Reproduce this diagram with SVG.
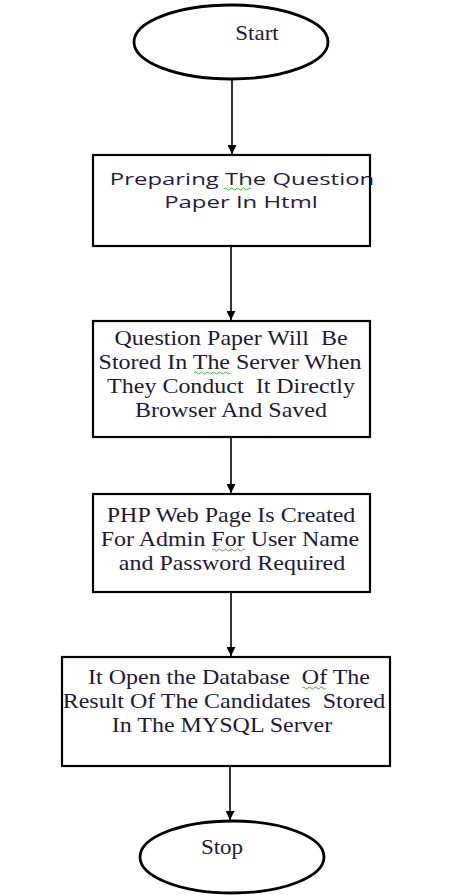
<svg xmlns="http://www.w3.org/2000/svg" width="450" height="895" viewBox="0 0 450 895">
  <style>
    .shape { fill: #ffffff; stroke: #000000; stroke-width: 2.2; }
    .oval { fill: #ffffff; stroke: #000000; stroke-width: 2.8; }
    .link { stroke: #000000; stroke-width: 1.6; fill: none; marker-end: url(#arrow); }
    .serif { font-family: "Liberation Serif", "Times New Roman", serif; font-size: 20px; fill: #1e1a36; text-anchor: middle; white-space: pre; }
    .sans { font-family: "Open Sans", "Noto Sans", sans-serif; font-size: 16.5px; fill: #241c3a; text-anchor: middle; }
    .squiggle { stroke: #3aa03a; stroke-width: 0.9; fill: none; }
  </style>
  <defs>
    <marker id="arrow" viewBox="0 0 10 10" refX="10" refY="5" markerWidth="9" markerHeight="9" markerUnits="userSpaceOnUse" orient="auto">
      <path d="M0,0 L10,5 L0,10 Z" fill="#000000"/>
    </marker>
  </defs>
  <rect width="450" height="895" fill="#ffffff"/>

  <g id="connectors">
    <line class="link" x1="232" y1="79" x2="232" y2="154"/>
    <line class="link" x1="231" y1="246" x2="231" y2="320"/>
    <line class="link" x1="231" y1="437" x2="231" y2="493"/>
    <line class="link" x1="231" y1="592" x2="231" y2="656"/>
    <line class="link" x1="230" y1="766" x2="230" y2="820"/>
  </g>

  <g id="start">
    <ellipse class="oval" cx="231" cy="42" rx="97" ry="37"/>
    <text class="serif" transform="translate(257,40) scale(1.15,1)">Start</text>
  </g>

  <g id="prepare">
    <rect class="shape" x="93" y="155" width="277" height="91"/>
    <text class="sans" transform="translate(242,185) scale(1.45,1)">Preparing The Question</text>
    <text class="sans" transform="translate(241,208) scale(1.45,1)">Paper In Html</text>
    <path class="squiggle" d="M224,189 q1.5,-2 3,0 t3,0 t3,0 t3,0 t3,0 t3,0 t3,0 t3,0 t3,0"/>
  </g>

  <g id="store">
    <rect class="shape" x="93" y="321" width="277" height="116"/>
    <text class="serif" xml:space="preserve" transform="translate(231,345) scale(1.2,1)">Question Paper Will  Be</text>
    <text class="serif" transform="translate(230,369) scale(1.2,1)">Stored In The Server When</text>
    <text class="serif" xml:space="preserve" transform="translate(231,393) scale(1.2,1)">They Conduct  It Directly</text>
    <text class="serif" transform="translate(231,417) scale(1.2,1)">Browser And Saved</text>
    <path class="squiggle" d="M194,373 q1.5,-2 3,0 t3,0 t3,0 t3,0 t3,0 t3,0 t3,0 t3,0 t3,0 t3,0 t3,0 t3,0"/>
  </g>

  <g id="admin">
    <rect class="shape" x="93" y="494" width="277" height="98"/>
    <text class="serif" transform="translate(231,522) scale(1.2,1)">PHP Web Page Is Created</text>
    <text class="serif" transform="translate(230,546) scale(1.2,1)">For Admin For User Name</text>
    <text class="serif" transform="translate(232,570) scale(1.2,1)">and Password Required</text>
    <path class="squiggle" d="M212,550 q1.5,-2 3,0 t3,0 t3,0 t3,0 t3,0 t3,0 t3,0 t3,0 t3,0 t3,0 t3,0"/>
  </g>

  <g id="database">
    <rect class="shape" x="62" y="657" width="328" height="109"/>
    <text class="serif" xml:space="preserve" transform="translate(229,684) scale(1.2,1)">It Open the Database  Of The</text>
    <text class="serif" xml:space="preserve" transform="translate(224,708) scale(1.2,1)">Result Of The Candidates  Stored</text>
    <text class="serif" transform="translate(222,732) scale(1.2,1)">In The MYSQL Server</text>
    <path class="squiggle" d="M302,688 q1.5,-2 3,0 t3,0 t3,0 t3,0 t3,0 t3,0 t3,0 t3,0"/>
  </g>

  <g id="stop">
    <ellipse class="oval" cx="232" cy="857" rx="92" ry="36"/>
    <text class="serif" transform="translate(222,854) scale(1.15,1)">Stop</text>
  </g>
</svg>
